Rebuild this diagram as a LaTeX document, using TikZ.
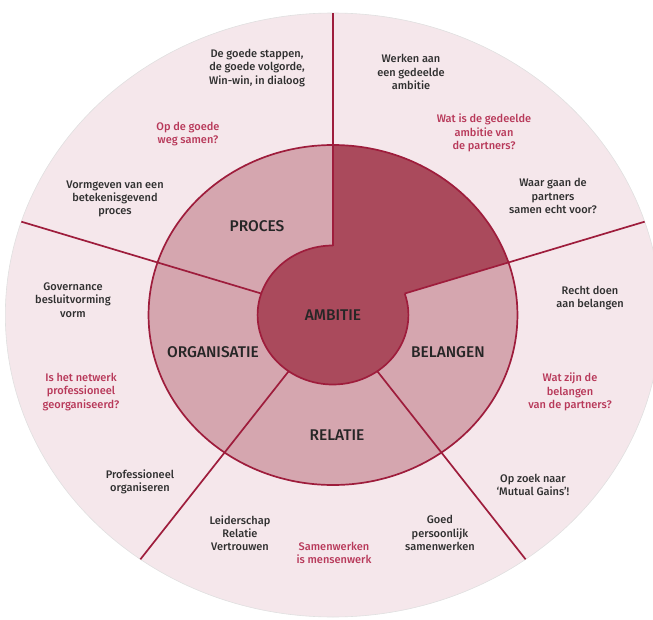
\documentclass[tikz,border=0pt]{standalone}
\usepackage{fontspec}
\setmainfont{Fira Sans}[UprightFont={Fira Sans Medium}]
\usepackage{tikz}

\definecolor{bleek}{HTML}{F5E7EB}
\definecolor{midden}{HTML}{D5A6AF}
\definecolor{donker}{HTML}{AA4A5C}
\definecolor{lijn}{HTML}{9E1D3C}
\definecolor{vraagrood}{HTML}{B8395A}
\definecolor{tekst}{HTML}{303030}

\tikzset{
  klein/.style={align=center,text=tekst,font=\fontsize{11}{13.3}\selectfont},
  vraag/.style={klein,text=vraagrood},
  kop/.style={text=black!85,font=\fontsize{15.5}{17}\selectfont},
  rand/.style={draw=lijn,line width=1.7pt}
}

\begin{document}
\begin{tikzpicture}[x=1pt,y=1pt]
\useasboundingbox (-333,-304) rectangle (320,315);
\clip (-333,-304) rectangle (320,315);
% schijven, iets breder dan hoog
\begin{scope}[xscale=1.085]
\fill[bleek](0,0) circle(302);
\draw[black!12,line width=0.6pt](0,0) circle(302);
\fill[midden](0,0) circle(170);
\fill[donker](0,0)--(18:170) arc(18:90:170)--cycle;
\fill[donker](0,0) circle(69.5);
\foreach \a in {90,18,-54,-126,162}
  \draw[rand](\a:69.5)--(\a:302);
\draw[rand](0,0) circle(170);
% kern: rand alleen waar hij aan de lichte vlakken grenst
\draw[rand](90:69.5) arc(90:378:69.5);
\end{scope}

% kernwoorden
\node[kop] (ambitie) at (0,0) {AMBITIE};
\node[kop] (proces) at (-76,89) {PROCES};
\node[kop] (organisatie) at (-120,-37) {ORGANISATIE};
\node[kop] (relatie) at (4,-120) {RELATIE};
\node[kop] (belangen) at (115,-37) {BELANGEN};

% proces
\node[klein] (stappen) at (-76,247) {De goede stappen,\\de goede volgorde,\\Win-win, in dialoog};
\node[vraag] (weg) at (-145,181) {Op de goede\\weg samen?};
\node[klein] (vormgeven) at (-218,116) {Vormgeven van een\\betekenisgevend\\proces};

% organisatie
\node[klein] (governance) at (-260,15) {Governance\\besluitvorming\\vorm};
\node[vraag] (netwerk) at (-252,-77) {Is het netwerk\\professioneel\\georganiseerd?};
\node[klein] (organiseren) at (-193,-167) {Professioneel\\organiseren};

% relatie
\node[klein] (leiderschap) at (-93,-218) {Leiderschap\\Relatie\\Vertrouwen};
\node[vraag] (mensenwerk) at (1,-238) {Samenwerken\\is mensenwerk};
\node[klein] (persoonlijk) at (107,-218) {Goed\\persoonlijk\\samenwerken};

% belangen
\node[klein] (gains) at (200,-170) {Op zoek naar\\`Mutual Gains'!};
\node[vraag] (partners) at (237,-77) {Wat zijn de\\belangen\\van de partners?};
\node[klein] (recht) at (257,17) {Recht doen\\aan belangen};

% ambitie
\node[klein] (waar) at (220,119) {Waar gaan de\\partners\\samen echt voor?};
\node[vraag] (gedeeld) at (151,182) {Wat is de gedeelde\\ambitie van\\de partners?};
\node[klein] (werken) at (78,243) {Werken aan\\een gedeelde\\ambitie};
\end{tikzpicture}
\end{document}
